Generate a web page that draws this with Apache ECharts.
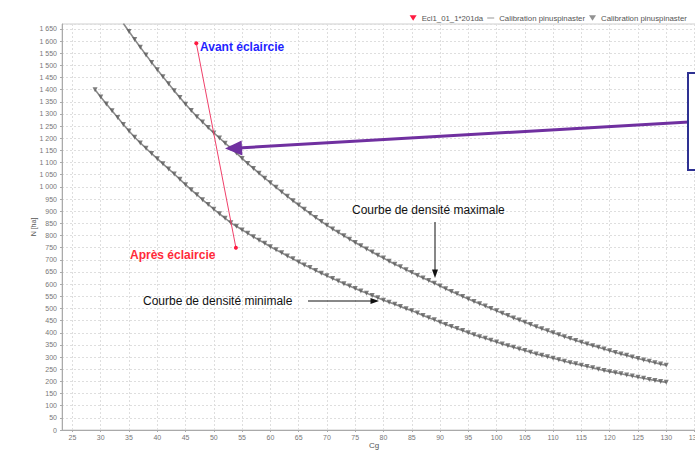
<!DOCTYPE html>
<html>
<head>
<meta charset="utf-8">
<script src="https://cdn.jsdelivr.net/npm/echarts@6/dist/echarts.min.js"></script>
<style>
html,body{margin:0;padding:0;background:#fff;}
#c{width:695px;height:451px;}
</style>
</head>
<body>
<div id="c"></div>
<script>
// ---- data ----
const cg = [29,30,31,32,33,34,35,36,37,38,39,40,41,42,43,44,45,46,47,48,49,50,51,52,53,54,55,56,57,58,59,60,61,62,63,64,65,66,67,68,69,70,71,72,73,74,75,76,77,78,79,80,81,82,83,84,85,86,87,88,89,90,91,92,93,94,95,96,97,98,99,100,101,102,103,104,105,106,107,108,109,110,111,112,113,114,115,116,117,118,119,120,121,122,123,124,125,126,127,128,129,130];
const nMin = [1400,1370,1341,1313,1285,1257,1230,1204,1181,1159,1137,1116,1095,1074,1053,1031,1009,988,968,947,928,908,889,871,852,838,823,809,795,781,768,754,741,729,716,704,691,679,668,656,645,634,623,613,602,592,582,572,563,553,544,534,525,517,508,499,491,481,471,462,453,443,434,426,417,409,400,392,384,377,369,362,354,347,340,333,327,320,313,307,301,295,289,283,277,272,266,261,256,250,245,240,236,231,226,222,217,213,208,204,200,196];
const nMax = [null,null,null,null,null,1672,1639,1606,1574,1543,1512,1482,1453,1424,1395,1368,1340,1314,1289,1267,1244,1222,1201,1180,1159,1139,1117,1096,1076,1056,1036,1017,998,979,961,943,925,908,891,874,858,842,827,813,799,785,771,758,745,732,719,707,694,682,671,659,648,636,625,615,604,592,581,570,560,549,539,529,519,510,500,490,480,471,461,452,443,434,425,416,408,400,392,384,376,368,361,354,347,340,333,326,319,313,307,300,294,288,283,277,271,266];
const thinCg = [46.9, 53.9];
const thinN = [1591, 750];
const xTicks = [25,30,35,40,45,50,55,60,65,70,75,80,85,90,95,100,105,110,115,120,125,130,135];
const seriesNames = ['Ecl1_01_1*201da', 'Calibration pinuspinaster', 'Calibration pinuspinaster '];

const pairs = (xs, ys) => xs.map((x, i) => [x, ys[i] == null ? '-' : ys[i]]);

const chart = echarts.init(document.getElementById('c'), null, {renderer: 'svg'});
const FONT = 'Liberation Sans, Arial, sans-serif';
const downTri = 'path://M0,0 L10,0 L5,8 Z';

function fmtY(v) {
  if (v % 50 !== 0) return '';
  if (v >= 1000) return Math.floor(v / 1000) + ' ' + String(v % 1000).padStart(3, '0');
  return String(v);
}

chart.setOption({
  backgroundColor: '#fff',
  animation: false,
  textStyle: {fontFamily: FONT},
  legend: {
    top: 9, right: 1,
    itemWidth: 7, itemHeight: 6, itemGap: 4,
    textStyle: {fontSize: 7.8, color: '#555', fontFamily: FONT},
    data: [
      {name: seriesNames[0], icon: downTri, itemStyle: {color: '#ff1a40'}},
      {name: seriesNames[1], icon: 'path://M0,4 L12,4 L12,5.5 L0,5.5 Z', itemStyle: {color: '#888'}},
      {name: seriesNames[2], icon: downTri, itemStyle: {color: '#777'}}
    ]
  },
  grid: {left: 62, top: 24, width: 634, height: 406, outerBoundsMode: 'none', containLabel: false,
         show: true, borderColor: '#cfcfcf', borderWidth: 1, backgroundColor: '#fff'},
  xAxis: {
    type: 'value', min: 23.15, max: 135.26,
    name: 'Cg', nameLocation: 'middle', nameGap: 11, nameMoveOverlap: false,
    nameTextStyle: {fontSize: 8, color: '#555', fontFamily: FONT, padding: [0, 10, 0, 0]},
    axisLine: {show: true, lineStyle: {color: '#aaa'}},
    axisTick: {show: true, length: 2, lineStyle: {color: '#aaa'}, customValues: xTicks},
    axisLabel: {fontSize: 7, color: '#777', margin: 4, customValues: xTicks},
    splitLine: {show: true, lineStyle: {color: '#dedede', type: [2, 2], width: 1}}
  },
  yAxis: {
    type: 'value', min: 0, max: 1670, interval: 50,
    name: 'N [ha]', nameLocation: 'middle', nameGap: 25, nameMoveOverlap: false,
    nameTextStyle: {fontSize: 7, color: '#555', fontFamily: FONT},
    axisLine: {show: true, lineStyle: {color: '#aaa'}},
    axisTick: {show: true, length: 2, lineStyle: {color: '#aaa'}},
    axisLabel: {fontSize: 7, color: '#777', margin: 5, formatter: fmtY, showMaxLabel: false},
    splitLine: {show: true, lineStyle: {color: '#dedede', type: [2, 2], width: 1}}
  },
  series: [
    {
      name: seriesNames[1], type: 'line', data: pairs(cg, nMin), showSymbol: false, clip: true,
      lineStyle: {color: '#8a8a8a', width: 1.6}, itemStyle: {color: '#8a8a8a'}, z: 2
    },
    {
      name: seriesNames[1], type: 'line', data: pairs(cg, nMax), showSymbol: false, clip: true,
      lineStyle: {color: '#8a8a8a', width: 1.6}, itemStyle: {color: '#8a8a8a'}, z: 2
    },
    {
      name: seriesNames[2], type: 'scatter', data: pairs(cg, nMin), symbol: 'triangle', symbolRotate: 180,
      symbolSize: 5, itemStyle: {color: '#5e5e5e'}, clip: true, z: 3
    },
    {
      name: seriesNames[2], type: 'scatter', data: pairs(cg, nMax), symbol: 'triangle', symbolRotate: 180,
      symbolSize: 5, itemStyle: {color: '#5e5e5e'}, clip: true, z: 3
    },
    {
      name: seriesNames[0], type: 'line', data: pairs(thinCg, thinN), symbol: 'circle', symbolSize: 4,
      lineStyle: {color: '#f0406a', width: 1}, itemStyle: {color: '#ff1a40'}, z: 4
    }
  ],
  graphic: [
    {type: 'text', left: 200, top: 41, z: 10, style: {text: 'Avant éclaircie', fill: '#1f1fff', font: 'bold 12px ' + FONT}},
    {type: 'text', left: 130, top: 249, z: 10, style: {text: 'Après éclaircie', fill: '#ff2a3a', font: 'bold 12px ' + FONT}},
    {type: 'text', left: 352, top: 204, z: 10, style: {text: 'Courbe de densité maximale', fill: '#111', font: '12px ' + FONT}},
    {type: 'text', left: 143, top: 295, z: 10, style: {text: 'Courbe de densité minimale', fill: '#111', font: '12px ' + FONT}},
    {type: 'line', z: 10, shape: {x1: 435, y1: 222, x2: 435, y2: 270}, style: {stroke: '#111', lineWidth: 1}},
    {type: 'polygon', z: 10, shape: {points: [[435, 278], [432, 269.5], [438, 269.5]]}, style: {fill: '#111'}},
    {type: 'line', z: 10, shape: {x1: 308, y1: 301, x2: 371, y2: 301}, style: {stroke: '#111', lineWidth: 1}},
    {type: 'polygon', z: 10, shape: {points: [[379, 301], [370.5, 298], [370.5, 304]]}, style: {fill: '#111'}},
    {type: 'line', z: 10, shape: {x1: 689, y1: 122, x2: 238, y2: 148}, style: {stroke: '#7030a0', lineWidth: 3}},
    {type: 'polygon', z: 10, shape: {points: [[225, 148.5], [242.4, 155.5], [241.6, 140.5]]}, style: {fill: '#7030a0'}},
    {type: 'rect', z: 11, shape: {x: 688, y: 73, width: 20, height: 97}, style: {fill: '#fff', stroke: '#2e3192', lineWidth: 2}}
  ]
});
</script>
</body>
</html>
